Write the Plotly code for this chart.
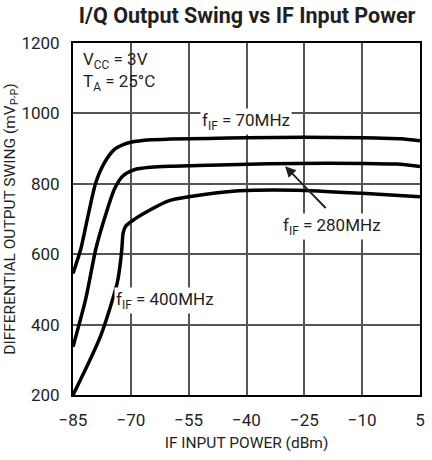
import plotly.graph_objects as go

# Data
x_70 = [-85, -83, -81.3, -79.1, -76.9, -74.3, -72, -70, -64.8, -60, -50, -40, -25, -10, 0, 5]
y_70 = [545, 614, 699, 803, 859, 897, 911, 918, 925, 927, 929, 931, 932, 931, 928, 922]

x_280 = [-85, -81.7, -79.1, -76.9, -74.3, -72.2, -69.1, -64.8, -60, -52.6, -42, -27, -10, -1, 5]
y_280 = [337, 473, 614, 699, 784, 821, 840, 847, 850, 852, 855, 858, 858, 856, 849]

x_400 = [-85, -77.8, -73.5, -72.6, -72.3, -72.0, -71.3, -69.1, -64.8, -60.4, -55, -42, -27, -10, 5]
y_400 = [200, 369, 520, 586, 620, 660, 680, 699, 727, 751, 763, 780, 782, 773, 763]

x_ticks = [-85, -70, -55, -40, -25, -10, 5]
y_ticks = [200, 400, 600, 800, 1000, 1200]

FONT = "Roboto, Liberation Sans, sans-serif"
INK = "#231f20"

fig = go.Figure()
for xs, ys in [(x_70, y_70), (x_280, y_280), (x_400, y_400)]:
    fig.add_trace(go.Scatter(x=xs, y=ys, mode="lines",
                             line=dict(color="black", width=3.5, shape="spline", smoothing=0.7),
                             showlegend=False, hoverinfo="skip"))

ann_font = dict(family=FONT, size=17, color=INK)
annotations = [
    dict(x=-82.8, y=1118, text="V<sub>CC</sub> = 3V<br>T<sub>A</sub> = 25°C",
         xanchor="left", yanchor="middle", align="left"),
    dict(x=-40.1, y=976, text="f<sub>IF</sub> = 70MHz", bgcolor="white"),
    dict(x=-17.9, y=680, text="f<sub>IF</sub> = 280MHz", bgcolor="white"),
    dict(x=-61.2, y=468, text="f<sub>IF</sub> = 400MHz", bgcolor="white"),
]
for a in annotations:
    fig.add_annotation(showarrow=False, xref="x", yref="y", font=ann_font, borderpad=1, **a)

fig.add_annotation(x=-30.0, y=850, ax=-19.1, ay=727, xref="x", yref="y", axref="x", ayref="y",
                   text="", showarrow=True, arrowhead=2, arrowsize=1.2, arrowwidth=1.8, arrowcolor=INK)

axis_common = dict(showgrid=True, gridcolor="#555555", gridwidth=1.5,
                   showline=True, linecolor="black", linewidth=2, mirror=True,
                   ticks="", zeroline=False, ticklabeloverflow="allow", automargin=True,
                   tickfont=dict(family=FONT, size=17, color=INK))

fig.update_xaxes(range=[-85, 5], tickvals=x_ticks,
                 ticktext=[("−" + str(-v)) if v < 0 else str(v) for v in x_ticks],
                 ticklabelstandoff=9,
                 title=dict(text="IF INPUT POWER (dBm)", font=dict(family=FONT, size=15.5, color=INK),
                            standoff=8),
                 **axis_common)
fig.update_yaxes(range=[200, 1200], tickvals=y_ticks, ticklabelstandoff=8,
                 title=dict(text="DIFFERENTIAL OUTPUT SWING (mV<sub>P-P</sub>)",
                            font=dict(family=FONT, size=15.5, color=INK), standoff=2),
                 **axis_common)

fig.update_layout(
    width=432, height=460,
    margin=dict(l=73, r=7, t=43, b=65),
    paper_bgcolor="white", plot_bgcolor="white",
    title=dict(text="<b>I/Q Output Swing vs IF Input Power</b>", x=0.572, xanchor="center",
               y=0.967, yanchor="middle", font=dict(family=FONT, size=21.5, color=INK)),
)

# remove the default 8px page margin so the figure fills the window exactly
fig.write_html("out.html", config={"displayModeBar": False},
               post_script="document.body.style.margin='0';")
